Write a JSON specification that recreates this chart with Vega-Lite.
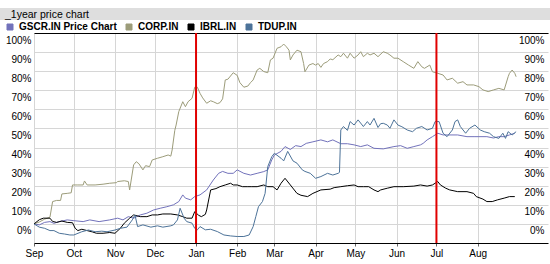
{
  "$schema": "https://vega.github.io/schema/vega-lite/v6.json",
  "width": 514,
  "height": 210,
  "autosize": {"type": "none"},
  "padding": {"left": 34, "top": 33, "right": 2, "bottom": 21},
  "background": "white",
  "config": {"view": {"stroke": null}, "font": "Liberation Sans"},
  "title": {"text": "_1year price chart", "anchor": "start", "frame": "group", "dx": -29, "offset": -13, "fontSize": 10.5, "fontWeight": "normal", "font": "Liberation Sans", "color": "#000000"},
  "resolve": {"axis": {"x": "independent", "y": "independent"}},
  "layer": [
    {
      "data": {"values": [{"band": "title"}]},
      "mark": {"type": "rect", "color": "#dedede"},
      "encoding": {
        "x": {"datum": {"year": 2006, "month": 8, "date": 6, "utc": true}, "type": "temporal", "scale": {"type": "utc", "domain": [{"year": 2006, "month": 9, "date": 1, "utc": true}, {"year": 2007, "month": 9, "date": 23, "utc": true}]}, "axis": null},
        "x2": {"datum": {"year": 2007, "month": 9, "date": 26, "utc": true}},
        "y": {"datum": 106.8, "type": "quantitative", "scale": {"domain": [-10, 100]},
          "axis": {"orient": "right", "values": [0, 10, 20, 30, 40, 50, 60, 70, 80, 90, 100], "labelExpr": "datum.value + '%'", "labelAlign": "right", "labelPadding": -4, "labelOffset": 7, "grid": false, "ticks": false, "domain": false, "title": null, "labelFont": "Liberation Sans", "labelFontSize": 10, "labelColor": "#000000"}},
        "y2": {"datum": 113.1}
      }
    },
    {
      "data": {"values": [
        {"s": "GSCR.IN Price Chart", "d": "2006-09-01", "v": 0},
        {"s": "GSCR.IN Price Chart", "d": "2006-09-05", "v": -0.5},
        {"s": "GSCR.IN Price Chart", "d": "2006-09-09", "v": 0.8},
        {"s": "GSCR.IN Price Chart", "d": "2006-09-13", "v": 1.2},
        {"s": "GSCR.IN Price Chart", "d": "2006-09-16", "v": 0.3},
        {"s": "GSCR.IN Price Chart", "d": "2006-09-20", "v": 1.2},
        {"s": "GSCR.IN Price Chart", "d": "2006-09-26", "v": 2.1},
        {"s": "GSCR.IN Price Chart", "d": "2006-10-01", "v": 1.7},
        {"s": "GSCR.IN Price Chart", "d": "2006-10-08", "v": 1.2},
        {"s": "GSCR.IN Price Chart", "d": "2006-10-13", "v": 2.1},
        {"s": "GSCR.IN Price Chart", "d": "2006-10-20", "v": 1.2},
        {"s": "GSCR.IN Price Chart", "d": "2006-10-28", "v": 2.1},
        {"s": "GSCR.IN Price Chart", "d": "2006-11-03", "v": 3},
        {"s": "GSCR.IN Price Chart", "d": "2006-11-07", "v": 2.1},
        {"s": "GSCR.IN Price Chart", "d": "2006-11-11", "v": 3.8},
        {"s": "GSCR.IN Price Chart", "d": "2006-11-15", "v": 3},
        {"s": "GSCR.IN Price Chart", "d": "2006-11-20", "v": 4.7},
        {"s": "GSCR.IN Price Chart", "d": "2006-11-25", "v": 5.6},
        {"s": "GSCR.IN Price Chart", "d": "2006-11-30", "v": 7.3},
        {"s": "GSCR.IN Price Chart", "d": "2006-12-05", "v": 8.2},
        {"s": "GSCR.IN Price Chart", "d": "2006-12-10", "v": 9},
        {"s": "GSCR.IN Price Chart", "d": "2006-12-15", "v": 10},
        {"s": "GSCR.IN Price Chart", "d": "2006-12-19", "v": 11.7},
        {"s": "GSCR.IN Price Chart", "d": "2006-12-22", "v": 15.2},
        {"s": "GSCR.IN Price Chart", "d": "2006-12-24", "v": 13.5},
        {"s": "GSCR.IN Price Chart", "d": "2006-12-28", "v": 12.6},
        {"s": "GSCR.IN Price Chart", "d": "2006-12-31", "v": 14.3},
        {"s": "GSCR.IN Price Chart", "d": "2007-01-04", "v": 15.2},
        {"s": "GSCR.IN Price Chart", "d": "2007-01-09", "v": 17.8},
        {"s": "GSCR.IN Price Chart", "d": "2007-01-14", "v": 23},
        {"s": "GSCR.IN Price Chart", "d": "2007-01-18", "v": 26.5},
        {"s": "GSCR.IN Price Chart", "d": "2007-01-21", "v": 27.5},
        {"s": "GSCR.IN Price Chart", "d": "2007-01-25", "v": 26.5},
        {"s": "GSCR.IN Price Chart", "d": "2007-01-29", "v": 26.5},
        {"s": "GSCR.IN Price Chart", "d": "2007-02-01", "v": 28.3},
        {"s": "GSCR.IN Price Chart", "d": "2007-02-06", "v": 26.5},
        {"s": "GSCR.IN Price Chart", "d": "2007-02-11", "v": 25.6},
        {"s": "GSCR.IN Price Chart", "d": "2007-02-16", "v": 26.5},
        {"s": "GSCR.IN Price Chart", "d": "2007-02-21", "v": 27.4},
        {"s": "GSCR.IN Price Chart", "d": "2007-02-24", "v": 28.3},
        {"s": "GSCR.IN Price Chart", "d": "2007-02-27", "v": 33.5},
        {"s": "GSCR.IN Price Chart", "d": "2007-03-01", "v": 36.1},
        {"s": "GSCR.IN Price Chart", "d": "2007-03-06", "v": 38},
        {"s": "GSCR.IN Price Chart", "d": "2007-03-09", "v": 40.5},
        {"s": "GSCR.IN Price Chart", "d": "2007-03-13", "v": 39},
        {"s": "GSCR.IN Price Chart", "d": "2007-03-17", "v": 41},
        {"s": "GSCR.IN Price Chart", "d": "2007-03-21", "v": 40.5},
        {"s": "GSCR.IN Price Chart", "d": "2007-03-25", "v": 42.2},
        {"s": "GSCR.IN Price Chart", "d": "2007-03-30", "v": 43},
        {"s": "GSCR.IN Price Chart", "d": "2007-04-05", "v": 44},
        {"s": "GSCR.IN Price Chart", "d": "2007-04-10", "v": 43},
        {"s": "GSCR.IN Price Chart", "d": "2007-04-14", "v": 44},
        {"s": "GSCR.IN Price Chart", "d": "2007-04-20", "v": 42},
        {"s": "GSCR.IN Price Chart", "d": "2007-04-25", "v": 42},
        {"s": "GSCR.IN Price Chart", "d": "2007-04-30", "v": 41.4},
        {"s": "GSCR.IN Price Chart", "d": "2007-05-05", "v": 40.5},
        {"s": "GSCR.IN Price Chart", "d": "2007-05-10", "v": 41.4},
        {"s": "GSCR.IN Price Chart", "d": "2007-05-15", "v": 39.6},
        {"s": "GSCR.IN Price Chart", "d": "2007-05-22", "v": 39.3},
        {"s": "GSCR.IN Price Chart", "d": "2007-05-30", "v": 40.5},
        {"s": "GSCR.IN Price Chart", "d": "2007-06-04", "v": 41},
        {"s": "GSCR.IN Price Chart", "d": "2007-06-09", "v": 39.6},
        {"s": "GSCR.IN Price Chart", "d": "2007-06-14", "v": 40.5},
        {"s": "GSCR.IN Price Chart", "d": "2007-06-19", "v": 41.4},
        {"s": "GSCR.IN Price Chart", "d": "2007-06-21", "v": 42.2},
        {"s": "GSCR.IN Price Chart", "d": "2007-06-24", "v": 44},
        {"s": "GSCR.IN Price Chart", "d": "2007-06-28", "v": 45.7},
        {"s": "GSCR.IN Price Chart", "d": "2007-07-02", "v": 47.5},
        {"s": "GSCR.IN Price Chart", "d": "2007-07-06", "v": 46.6},
        {"s": "GSCR.IN Price Chart", "d": "2007-07-09", "v": 46.6},
        {"s": "GSCR.IN Price Chart", "d": "2007-07-17", "v": 46.6},
        {"s": "GSCR.IN Price Chart", "d": "2007-07-24", "v": 45.7},
        {"s": "GSCR.IN Price Chart", "d": "2007-07-30", "v": 45.7},
        {"s": "GSCR.IN Price Chart", "d": "2007-08-08", "v": 45.7},
        {"s": "GSCR.IN Price Chart", "d": "2007-08-13", "v": 45},
        {"s": "GSCR.IN Price Chart", "d": "2007-08-17", "v": 45.7},
        {"s": "GSCR.IN Price Chart", "d": "2007-08-21", "v": 45.7},
        {"s": "GSCR.IN Price Chart", "d": "2007-08-25", "v": 46.6},
        {"s": "GSCR.IN Price Chart", "d": "2007-08-29", "v": 47.5},

        {"s": "CORP.IN", "d": "2006-09-01", "v": 0},
        {"s": "CORP.IN", "d": "2006-09-05", "v": 1},
        {"s": "CORP.IN", "d": "2006-09-09", "v": 2.5},
        {"s": "CORP.IN", "d": "2006-09-13", "v": 3.5},
        {"s": "CORP.IN", "d": "2006-09-15", "v": 11.7},
        {"s": "CORP.IN", "d": "2006-09-18", "v": 12.3},
        {"s": "CORP.IN", "d": "2006-09-21", "v": 12.3},
        {"s": "CORP.IN", "d": "2006-09-22", "v": 15.7},
        {"s": "CORP.IN", "d": "2006-09-26", "v": 16},
        {"s": "CORP.IN", "d": "2006-09-29", "v": 16.3},
        {"s": "CORP.IN", "d": "2006-09-30", "v": 20.4},
        {"s": "CORP.IN", "d": "2006-10-04", "v": 20.4},
        {"s": "CORP.IN", "d": "2006-10-08", "v": 20.4},
        {"s": "CORP.IN", "d": "2006-10-09", "v": 22.5},
        {"s": "CORP.IN", "d": "2006-10-11", "v": 20.4},
        {"s": "CORP.IN", "d": "2006-10-17", "v": 20.4},
        {"s": "CORP.IN", "d": "2006-10-23", "v": 20.8},
        {"s": "CORP.IN", "d": "2006-10-28", "v": 21.3},
        {"s": "CORP.IN", "d": "2006-11-02", "v": 21.6},
        {"s": "CORP.IN", "d": "2006-11-03", "v": 22.2},
        {"s": "CORP.IN", "d": "2006-11-08", "v": 22.6},
        {"s": "CORP.IN", "d": "2006-11-11", "v": 22.2},
        {"s": "CORP.IN", "d": "2006-11-12", "v": 17.8},
        {"s": "CORP.IN", "d": "2006-11-15", "v": 30.9},
        {"s": "CORP.IN", "d": "2006-11-17", "v": 32.6},
        {"s": "CORP.IN", "d": "2006-11-19", "v": 31.5},
        {"s": "CORP.IN", "d": "2006-11-22", "v": 28.3},
        {"s": "CORP.IN", "d": "2006-11-24", "v": 30.5},
        {"s": "CORP.IN", "d": "2006-11-27", "v": 30},
        {"s": "CORP.IN", "d": "2006-11-29", "v": 33.5},
        {"s": "CORP.IN", "d": "2006-12-03", "v": 34.4},
        {"s": "CORP.IN", "d": "2006-12-07", "v": 35.2},
        {"s": "CORP.IN", "d": "2006-12-11", "v": 36.1},
        {"s": "CORP.IN", "d": "2006-12-13", "v": 35.5},
        {"s": "CORP.IN", "d": "2006-12-14", "v": 38.7},
        {"s": "CORP.IN", "d": "2006-12-16", "v": 49},
        {"s": "CORP.IN", "d": "2006-12-17", "v": 51.8},
        {"s": "CORP.IN", "d": "2006-12-19", "v": 58.8},
        {"s": "CORP.IN", "d": "2006-12-22", "v": 64},
        {"s": "CORP.IN", "d": "2006-12-24", "v": 61.4},
        {"s": "CORP.IN", "d": "2006-12-26", "v": 64},
        {"s": "CORP.IN", "d": "2006-12-29", "v": 65.8},
        {"s": "CORP.IN", "d": "2006-12-31", "v": 71.6},
        {"s": "CORP.IN", "d": "2007-01-02", "v": 71.6},
        {"s": "CORP.IN", "d": "2007-01-04", "v": 68.4},
        {"s": "CORP.IN", "d": "2007-01-06", "v": 66},
        {"s": "CORP.IN", "d": "2007-01-09", "v": 63.2},
        {"s": "CORP.IN", "d": "2007-01-12", "v": 64.5},
        {"s": "CORP.IN", "d": "2007-01-14", "v": 64},
        {"s": "CORP.IN", "d": "2007-01-17", "v": 63},
        {"s": "CORP.IN", "d": "2007-01-19", "v": 63.5},
        {"s": "CORP.IN", "d": "2007-01-21", "v": 65.5},
        {"s": "CORP.IN", "d": "2007-01-23", "v": 75.4},
        {"s": "CORP.IN", "d": "2007-01-25", "v": 75.8},
        {"s": "CORP.IN", "d": "2007-01-29", "v": 79.2},
        {"s": "CORP.IN", "d": "2007-02-01", "v": 77.8},
        {"s": "CORP.IN", "d": "2007-02-03", "v": 74},
        {"s": "CORP.IN", "d": "2007-02-06", "v": 71.6},
        {"s": "CORP.IN", "d": "2007-02-09", "v": 72.2},
        {"s": "CORP.IN", "d": "2007-02-11", "v": 74},
        {"s": "CORP.IN", "d": "2007-02-13", "v": 75.4},
        {"s": "CORP.IN", "d": "2007-02-16", "v": 80.6},
        {"s": "CORP.IN", "d": "2007-02-18", "v": 81.5},
        {"s": "CORP.IN", "d": "2007-02-21", "v": 79.8},
        {"s": "CORP.IN", "d": "2007-02-24", "v": 79.2},
        {"s": "CORP.IN", "d": "2007-02-26", "v": 85.9},
        {"s": "CORP.IN", "d": "2007-02-28", "v": 86.8},
        {"s": "CORP.IN", "d": "2007-03-03", "v": 92},
        {"s": "CORP.IN", "d": "2007-03-06", "v": 92.8},
        {"s": "CORP.IN", "d": "2007-03-08", "v": 94.2},
        {"s": "CORP.IN", "d": "2007-03-10", "v": 92.8},
        {"s": "CORP.IN", "d": "2007-03-12", "v": 91},
        {"s": "CORP.IN", "d": "2007-03-13", "v": 85.9},
        {"s": "CORP.IN", "d": "2007-03-15", "v": 88.5},
        {"s": "CORP.IN", "d": "2007-03-18", "v": 91},
        {"s": "CORP.IN", "d": "2007-03-21", "v": 90.2},
        {"s": "CORP.IN", "d": "2007-03-23", "v": 84},
        {"s": "CORP.IN", "d": "2007-03-24", "v": 79.7},
        {"s": "CORP.IN", "d": "2007-03-27", "v": 83.2},
        {"s": "CORP.IN", "d": "2007-03-30", "v": 84},
        {"s": "CORP.IN", "d": "2007-04-01", "v": 83.2},
        {"s": "CORP.IN", "d": "2007-04-03", "v": 84},
        {"s": "CORP.IN", "d": "2007-04-05", "v": 82},
        {"s": "CORP.IN", "d": "2007-04-07", "v": 84},
        {"s": "CORP.IN", "d": "2007-04-10", "v": 85},
        {"s": "CORP.IN", "d": "2007-04-12", "v": 86.4},
        {"s": "CORP.IN", "d": "2007-04-14", "v": 86},
        {"s": "CORP.IN", "d": "2007-04-18", "v": 88.5},
        {"s": "CORP.IN", "d": "2007-04-20", "v": 87.6},
        {"s": "CORP.IN", "d": "2007-04-22", "v": 89.4},
        {"s": "CORP.IN", "d": "2007-04-25", "v": 86.8},
        {"s": "CORP.IN", "d": "2007-04-27", "v": 89.4},
        {"s": "CORP.IN", "d": "2007-04-30", "v": 86.8},
        {"s": "CORP.IN", "d": "2007-05-03", "v": 88.5},
        {"s": "CORP.IN", "d": "2007-05-05", "v": 90.2},
        {"s": "CORP.IN", "d": "2007-05-07", "v": 87.6},
        {"s": "CORP.IN", "d": "2007-05-10", "v": 89.4},
        {"s": "CORP.IN", "d": "2007-05-12", "v": 88.5},
        {"s": "CORP.IN", "d": "2007-05-15", "v": 89.4},
        {"s": "CORP.IN", "d": "2007-05-18", "v": 87.6},
        {"s": "CORP.IN", "d": "2007-05-22", "v": 90.2},
        {"s": "CORP.IN", "d": "2007-05-25", "v": 89.4},
        {"s": "CORP.IN", "d": "2007-05-27", "v": 88.5},
        {"s": "CORP.IN", "d": "2007-05-30", "v": 86.8},
        {"s": "CORP.IN", "d": "2007-06-02", "v": 86.8},
        {"s": "CORP.IN", "d": "2007-06-06", "v": 85},
        {"s": "CORP.IN", "d": "2007-06-10", "v": 83.2},
        {"s": "CORP.IN", "d": "2007-06-14", "v": 81.5},
        {"s": "CORP.IN", "d": "2007-06-17", "v": 85},
        {"s": "CORP.IN", "d": "2007-06-20", "v": 82.3},
        {"s": "CORP.IN", "d": "2007-06-22", "v": 81.5},
        {"s": "CORP.IN", "d": "2007-06-26", "v": 83.2},
        {"s": "CORP.IN", "d": "2007-06-28", "v": 79.7},
        {"s": "CORP.IN", "d": "2007-07-02", "v": 78.9},
        {"s": "CORP.IN", "d": "2007-07-06", "v": 78},
        {"s": "CORP.IN", "d": "2007-07-09", "v": 75.4},
        {"s": "CORP.IN", "d": "2007-07-13", "v": 76.3},
        {"s": "CORP.IN", "d": "2007-07-17", "v": 73.7},
        {"s": "CORP.IN", "d": "2007-07-21", "v": 74.5},
        {"s": "CORP.IN", "d": "2007-07-24", "v": 72.8},
        {"s": "CORP.IN", "d": "2007-07-29", "v": 72.8},
        {"s": "CORP.IN", "d": "2007-08-02", "v": 71.9},
        {"s": "CORP.IN", "d": "2007-08-05", "v": 70.2},
        {"s": "CORP.IN", "d": "2007-08-09", "v": 69.3},
        {"s": "CORP.IN", "d": "2007-08-13", "v": 70.2},
        {"s": "CORP.IN", "d": "2007-08-17", "v": 71},
        {"s": "CORP.IN", "d": "2007-08-21", "v": 70.2},
        {"s": "CORP.IN", "d": "2007-08-24", "v": 77.1},
        {"s": "CORP.IN", "d": "2007-08-25", "v": 78.9},
        {"s": "CORP.IN", "d": "2007-08-27", "v": 80.6},
        {"s": "CORP.IN", "d": "2007-08-29", "v": 78.9},
        {"s": "CORP.IN", "d": "2007-08-30", "v": 77.1},

        {"s": "IBRL.IN", "d": "2006-09-01", "v": 0},
        {"s": "IBRL.IN", "d": "2006-09-05", "v": 2.2},
        {"s": "IBRL.IN", "d": "2006-09-08", "v": 3},
        {"s": "IBRL.IN", "d": "2006-09-13", "v": 3},
        {"s": "IBRL.IN", "d": "2006-09-15", "v": 1.3},
        {"s": "IBRL.IN", "d": "2006-09-18", "v": 0.8},
        {"s": "IBRL.IN", "d": "2006-09-22", "v": 1.5},
        {"s": "IBRL.IN", "d": "2006-09-26", "v": 0.8},
        {"s": "IBRL.IN", "d": "2006-09-30", "v": 0.6},
        {"s": "IBRL.IN", "d": "2006-10-02", "v": -2.3},
        {"s": "IBRL.IN", "d": "2006-10-04", "v": -3.5},
        {"s": "IBRL.IN", "d": "2006-10-07", "v": -2.8},
        {"s": "IBRL.IN", "d": "2006-10-11", "v": -3.5},
        {"s": "IBRL.IN", "d": "2006-10-15", "v": -4.2},
        {"s": "IBRL.IN", "d": "2006-10-18", "v": -4.9},
        {"s": "IBRL.IN", "d": "2006-10-23", "v": -4.9},
        {"s": "IBRL.IN", "d": "2006-10-28", "v": -4.5},
        {"s": "IBRL.IN", "d": "2006-11-01", "v": -4.9},
        {"s": "IBRL.IN", "d": "2006-11-05", "v": -2.3},
        {"s": "IBRL.IN", "d": "2006-11-08", "v": 0.4},
        {"s": "IBRL.IN", "d": "2006-11-12", "v": 3},
        {"s": "IBRL.IN", "d": "2006-11-15", "v": 4.7},
        {"s": "IBRL.IN", "d": "2006-11-20", "v": 3.8},
        {"s": "IBRL.IN", "d": "2006-11-25", "v": 3.8},
        {"s": "IBRL.IN", "d": "2006-11-29", "v": 4.7},
        {"s": "IBRL.IN", "d": "2006-12-03", "v": 4.7},
        {"s": "IBRL.IN", "d": "2006-12-07", "v": 5.2},
        {"s": "IBRL.IN", "d": "2006-12-13", "v": 5.2},
        {"s": "IBRL.IN", "d": "2006-12-18", "v": 4.7},
        {"s": "IBRL.IN", "d": "2006-12-22", "v": 3.8},
        {"s": "IBRL.IN", "d": "2006-12-25", "v": 3},
        {"s": "IBRL.IN", "d": "2006-12-29", "v": 3},
        {"s": "IBRL.IN", "d": "2006-12-31", "v": 6.4},
        {"s": "IBRL.IN", "d": "2007-01-03", "v": 4.5},
        {"s": "IBRL.IN", "d": "2007-01-05", "v": 3.8},
        {"s": "IBRL.IN", "d": "2007-01-08", "v": 5},
        {"s": "IBRL.IN", "d": "2007-01-09", "v": 7.3},
        {"s": "IBRL.IN", "d": "2007-01-12", "v": 17.8},
        {"s": "IBRL.IN", "d": "2007-01-16", "v": 18.5},
        {"s": "IBRL.IN", "d": "2007-01-19", "v": 19.5},
        {"s": "IBRL.IN", "d": "2007-01-23", "v": 20.4},
        {"s": "IBRL.IN", "d": "2007-01-27", "v": 21.3},
        {"s": "IBRL.IN", "d": "2007-01-29", "v": 20.4},
        {"s": "IBRL.IN", "d": "2007-02-01", "v": 20.4},
        {"s": "IBRL.IN", "d": "2007-02-05", "v": 19.5},
        {"s": "IBRL.IN", "d": "2007-02-09", "v": 19.5},
        {"s": "IBRL.IN", "d": "2007-02-12", "v": 19.5},
        {"s": "IBRL.IN", "d": "2007-02-16", "v": 19.5},
        {"s": "IBRL.IN", "d": "2007-02-21", "v": 20.4},
        {"s": "IBRL.IN", "d": "2007-02-24", "v": 19.5},
        {"s": "IBRL.IN", "d": "2007-02-28", "v": 19.5},
        {"s": "IBRL.IN", "d": "2007-03-03", "v": 17.8},
        {"s": "IBRL.IN", "d": "2007-03-06", "v": 21.3},
        {"s": "IBRL.IN", "d": "2007-03-09", "v": 23.9},
        {"s": "IBRL.IN", "d": "2007-03-13", "v": 20.4},
        {"s": "IBRL.IN", "d": "2007-03-18", "v": 16},
        {"s": "IBRL.IN", "d": "2007-03-21", "v": 15},
        {"s": "IBRL.IN", "d": "2007-03-26", "v": 14.3},
        {"s": "IBRL.IN", "d": "2007-03-30", "v": 16},
        {"s": "IBRL.IN", "d": "2007-04-05", "v": 17.8},
        {"s": "IBRL.IN", "d": "2007-04-12", "v": 18.2},
        {"s": "IBRL.IN", "d": "2007-04-15", "v": 19},
        {"s": "IBRL.IN", "d": "2007-04-20", "v": 19.5},
        {"s": "IBRL.IN", "d": "2007-04-25", "v": 20},
        {"s": "IBRL.IN", "d": "2007-04-30", "v": 20.4},
        {"s": "IBRL.IN", "d": "2007-05-03", "v": 19.5},
        {"s": "IBRL.IN", "d": "2007-05-07", "v": 19.5},
        {"s": "IBRL.IN", "d": "2007-05-11", "v": 19.5},
        {"s": "IBRL.IN", "d": "2007-05-15", "v": 17.8},
        {"s": "IBRL.IN", "d": "2007-05-18", "v": 16.9},
        {"s": "IBRL.IN", "d": "2007-05-20", "v": 17.8},
        {"s": "IBRL.IN", "d": "2007-05-25", "v": 18.7},
        {"s": "IBRL.IN", "d": "2007-05-30", "v": 19.5},
        {"s": "IBRL.IN", "d": "2007-06-06", "v": 19.5},
        {"s": "IBRL.IN", "d": "2007-06-14", "v": 19.8},
        {"s": "IBRL.IN", "d": "2007-06-19", "v": 20.4},
        {"s": "IBRL.IN", "d": "2007-06-24", "v": 19.8},
        {"s": "IBRL.IN", "d": "2007-06-28", "v": 20.4},
        {"s": "IBRL.IN", "d": "2007-07-02", "v": 22.2},
        {"s": "IBRL.IN", "d": "2007-07-04", "v": 20.4},
        {"s": "IBRL.IN", "d": "2007-07-08", "v": 18.7},
        {"s": "IBRL.IN", "d": "2007-07-11", "v": 17.8},
        {"s": "IBRL.IN", "d": "2007-07-17", "v": 16.9},
        {"s": "IBRL.IN", "d": "2007-07-24", "v": 16.9},
        {"s": "IBRL.IN", "d": "2007-07-29", "v": 16},
        {"s": "IBRL.IN", "d": "2007-07-31", "v": 14.3},
        {"s": "IBRL.IN", "d": "2007-08-05", "v": 13},
        {"s": "IBRL.IN", "d": "2007-08-08", "v": 11.7},
        {"s": "IBRL.IN", "d": "2007-08-12", "v": 11.7},
        {"s": "IBRL.IN", "d": "2007-08-16", "v": 12.6},
        {"s": "IBRL.IN", "d": "2007-08-21", "v": 13.5},
        {"s": "IBRL.IN", "d": "2007-08-25", "v": 14.3},
        {"s": "IBRL.IN", "d": "2007-08-29", "v": 14.3},

        {"s": "TDUP.IN", "d": "2006-09-01", "v": 0},
        {"s": "TDUP.IN", "d": "2006-09-05", "v": -1.7},
        {"s": "TDUP.IN", "d": "2006-09-09", "v": -2.3},
        {"s": "TDUP.IN", "d": "2006-09-13", "v": -3.5},
        {"s": "TDUP.IN", "d": "2006-09-16", "v": -3.5},
        {"s": "TDUP.IN", "d": "2006-09-20", "v": -4.9},
        {"s": "TDUP.IN", "d": "2006-09-24", "v": -5.3},
        {"s": "TDUP.IN", "d": "2006-09-28", "v": -5.8},
        {"s": "TDUP.IN", "d": "2006-10-01", "v": -5.8},
        {"s": "TDUP.IN", "d": "2006-10-07", "v": -4.1},
        {"s": "TDUP.IN", "d": "2006-10-12", "v": -3.2},
        {"s": "TDUP.IN", "d": "2006-10-17", "v": -4.1},
        {"s": "TDUP.IN", "d": "2006-10-22", "v": -3.8},
        {"s": "TDUP.IN", "d": "2006-10-26", "v": -4.1},
        {"s": "TDUP.IN", "d": "2006-11-01", "v": -3.2},
        {"s": "TDUP.IN", "d": "2006-11-05", "v": -2.3},
        {"s": "TDUP.IN", "d": "2006-11-10", "v": -1.7},
        {"s": "TDUP.IN", "d": "2006-11-14", "v": 2.1},
        {"s": "TDUP.IN", "d": "2006-11-16", "v": 4.7},
        {"s": "TDUP.IN", "d": "2006-11-18", "v": -1.4},
        {"s": "TDUP.IN", "d": "2006-11-22", "v": -0.5},
        {"s": "TDUP.IN", "d": "2006-11-28", "v": -1.7},
        {"s": "TDUP.IN", "d": "2006-12-03", "v": -1},
        {"s": "TDUP.IN", "d": "2006-12-07", "v": -1.7},
        {"s": "TDUP.IN", "d": "2006-12-13", "v": -1},
        {"s": "TDUP.IN", "d": "2006-12-15", "v": -0.5},
        {"s": "TDUP.IN", "d": "2006-12-18", "v": 2.1},
        {"s": "TDUP.IN", "d": "2006-12-20", "v": 8.2},
        {"s": "TDUP.IN", "d": "2006-12-23", "v": 3},
        {"s": "TDUP.IN", "d": "2006-12-25", "v": 1.2},
        {"s": "TDUP.IN", "d": "2006-12-29", "v": 0.4},
        {"s": "TDUP.IN", "d": "2006-12-31", "v": -2.3},
        {"s": "TDUP.IN", "d": "2007-01-02", "v": -3.1},
        {"s": "TDUP.IN", "d": "2007-01-04", "v": -1.4},
        {"s": "TDUP.IN", "d": "2007-01-08", "v": -3.1},
        {"s": "TDUP.IN", "d": "2007-01-12", "v": -2.8},
        {"s": "TDUP.IN", "d": "2007-01-17", "v": -4},
        {"s": "TDUP.IN", "d": "2007-01-22", "v": -5.8},
        {"s": "TDUP.IN", "d": "2007-01-27", "v": -6.3},
        {"s": "TDUP.IN", "d": "2007-02-01", "v": -6.6},
        {"s": "TDUP.IN", "d": "2007-02-06", "v": -6.6},
        {"s": "TDUP.IN", "d": "2007-02-10", "v": -5.8},
        {"s": "TDUP.IN", "d": "2007-02-13", "v": -1.4},
        {"s": "TDUP.IN", "d": "2007-02-15", "v": 3.8},
        {"s": "TDUP.IN", "d": "2007-02-17", "v": 9},
        {"s": "TDUP.IN", "d": "2007-02-20", "v": 11.7},
        {"s": "TDUP.IN", "d": "2007-02-22", "v": 16},
        {"s": "TDUP.IN", "d": "2007-02-24", "v": 30},
        {"s": "TDUP.IN", "d": "2007-02-27", "v": 35.2},
        {"s": "TDUP.IN", "d": "2007-03-01", "v": 37},
        {"s": "TDUP.IN", "d": "2007-03-06", "v": 34.4},
        {"s": "TDUP.IN", "d": "2007-03-08", "v": 33},
        {"s": "TDUP.IN", "d": "2007-03-11", "v": 38},
        {"s": "TDUP.IN", "d": "2007-03-15", "v": 33},
        {"s": "TDUP.IN", "d": "2007-03-18", "v": 31.8},
        {"s": "TDUP.IN", "d": "2007-03-22", "v": 28.3},
        {"s": "TDUP.IN", "d": "2007-03-24", "v": 27.5},
        {"s": "TDUP.IN", "d": "2007-03-28", "v": 26.5},
        {"s": "TDUP.IN", "d": "2007-04-01", "v": 23.9},
        {"s": "TDUP.IN", "d": "2007-04-05", "v": 24.8},
        {"s": "TDUP.IN", "d": "2007-04-10", "v": 26.5},
        {"s": "TDUP.IN", "d": "2007-04-14", "v": 25.6},
        {"s": "TDUP.IN", "d": "2007-04-18", "v": 26.5},
        {"s": "TDUP.IN", "d": "2007-04-19", "v": 27},
        {"s": "TDUP.IN", "d": "2007-04-20", "v": 49.2},
        {"s": "TDUP.IN", "d": "2007-04-22", "v": 51},
        {"s": "TDUP.IN", "d": "2007-04-25", "v": 49},
        {"s": "TDUP.IN", "d": "2007-04-27", "v": 53.6},
        {"s": "TDUP.IN", "d": "2007-04-30", "v": 51.8},
        {"s": "TDUP.IN", "d": "2007-05-03", "v": 54.5},
        {"s": "TDUP.IN", "d": "2007-05-07", "v": 51},
        {"s": "TDUP.IN", "d": "2007-05-10", "v": 53.6},
        {"s": "TDUP.IN", "d": "2007-05-12", "v": 51.8},
        {"s": "TDUP.IN", "d": "2007-05-15", "v": 55.3},
        {"s": "TDUP.IN", "d": "2007-05-18", "v": 50.5},
        {"s": "TDUP.IN", "d": "2007-05-20", "v": 52.5},
        {"s": "TDUP.IN", "d": "2007-05-22", "v": 52.7},
        {"s": "TDUP.IN", "d": "2007-05-25", "v": 51.8},
        {"s": "TDUP.IN", "d": "2007-05-27", "v": 50.1},
        {"s": "TDUP.IN", "d": "2007-05-30", "v": 54.5},
        {"s": "TDUP.IN", "d": "2007-06-02", "v": 51.8},
        {"s": "TDUP.IN", "d": "2007-06-05", "v": 50.9},
        {"s": "TDUP.IN", "d": "2007-06-09", "v": 49.2},
        {"s": "TDUP.IN", "d": "2007-06-13", "v": 48.3},
        {"s": "TDUP.IN", "d": "2007-06-16", "v": 50.1},
        {"s": "TDUP.IN", "d": "2007-06-20", "v": 51},
        {"s": "TDUP.IN", "d": "2007-06-24", "v": 49.2},
        {"s": "TDUP.IN", "d": "2007-06-28", "v": 50.1},
        {"s": "TDUP.IN", "d": "2007-06-30", "v": 53.6},
        {"s": "TDUP.IN", "d": "2007-07-03", "v": 53.6},
        {"s": "TDUP.IN", "d": "2007-07-06", "v": 47.5},
        {"s": "TDUP.IN", "d": "2007-07-09", "v": 45.7},
        {"s": "TDUP.IN", "d": "2007-07-13", "v": 49.2},
        {"s": "TDUP.IN", "d": "2007-07-15", "v": 53.6},
        {"s": "TDUP.IN", "d": "2007-07-17", "v": 54.5},
        {"s": "TDUP.IN", "d": "2007-07-19", "v": 51},
        {"s": "TDUP.IN", "d": "2007-07-23", "v": 47.5},
        {"s": "TDUP.IN", "d": "2007-07-26", "v": 50.1},
        {"s": "TDUP.IN", "d": "2007-07-30", "v": 51.8},
        {"s": "TDUP.IN", "d": "2007-08-03", "v": 49.2},
        {"s": "TDUP.IN", "d": "2007-08-06", "v": 48.3},
        {"s": "TDUP.IN", "d": "2007-08-10", "v": 47.5},
        {"s": "TDUP.IN", "d": "2007-08-13", "v": 45.7},
        {"s": "TDUP.IN", "d": "2007-08-17", "v": 44.8},
        {"s": "TDUP.IN", "d": "2007-08-20", "v": 47.5},
        {"s": "TDUP.IN", "d": "2007-08-22", "v": 44.8},
        {"s": "TDUP.IN", "d": "2007-08-24", "v": 48.3},
        {"s": "TDUP.IN", "d": "2007-08-27", "v": 46.6},
        {"s": "TDUP.IN", "d": "2007-08-30", "v": 48.3}
      ]},
      "mark": {"type": "line", "strokeWidth": 1},
      "encoding": {
        "x": {"field": "d", "type": "temporal",
          "axis": {"orient": "bottom", "values": [
            {"year": 2006, "month": 9, "date": 1, "utc": true},
            {"year": 2006, "month": 10, "date": 1, "utc": true},
            {"year": 2006, "month": 11, "date": 1, "utc": true},
            {"year": 2006, "month": 12, "date": 1, "utc": true},
            {"year": 2007, "month": 1, "date": 1, "utc": true},
            {"year": 2007, "month": 2, "date": 1, "utc": true},
            {"year": 2007, "month": 3, "date": 1, "utc": true},
            {"year": 2007, "month": 4, "date": 1, "utc": true},
            {"year": 2007, "month": 5, "date": 1, "utc": true},
            {"year": 2007, "month": 6, "date": 1, "utc": true},
            {"year": 2007, "month": 7, "date": 1, "utc": true},
            {"year": 2007, "month": 8, "date": 1, "utc": true}],
            "labelExpr": "utcFormat(datum.value, '%b')", "grid": true, "gridColor": "#d6d6d6", "tickSize": 3, "tickColor": "#666666", "domainColor": "#000000", "labelPadding": 2, "labelFontSize": 10, "labelFont": "Liberation Sans", "labelColor": "#000000", "labelFlush": false, "labelOverlap": false, "title": null}},
        "y": {"field": "v", "type": "quantitative",
          "axis": {"orient": "left", "values": [0, 10, 20, 30, 40, 50, 60, 70, 80, 90, 100], "labelExpr": "datum.value + '%'", "labelOffset": 7, "labelPadding": 3, "grid": true, "gridColor": "#d6d6d6", "ticks": false, "domain": false, "title": null, "labelFont": "Liberation Sans", "labelFontSize": 10, "labelColor": "#000000"}},
        "color": {"field": "s", "type": "nominal",
          "scale": {"domain": ["GSCR.IN Price Chart", "CORP.IN", "IBRL.IN", "TDUP.IN"], "range": ["#7272bb", "#9c9c7a", "#000000", "#4d7399"]},
          "legend": {"title": null, "orient": "none", "direction": "horizontal", "gridAlign": "none", "legendX": -29, "legendY": -11, "symbolType": "square", "symbolSize": 36, "symbolStrokeWidth": 1, "labelFont": "Liberation Sans", "labelFontSize": 10, "labelFontWeight": "bold", "labelColor": "#000000", "labelOffset": 4, "columnPadding": 7, "padding": 0,
            "encode": {"symbols": {"update": {"fill": {"scale": "color", "field": "value"}, "stroke": {"value": "#222222"}, "opacity": {"value": 1}}}}}}
      }
    },
    {
      "data": {"values": [{"d": "2007-01-01"}, {"d": "2007-07-01"}]},
      "mark": {"type": "rule", "color": "#e00000", "strokeWidth": 2},
      "encoding": {
        "x": {"field": "d", "type": "temporal", "axis": {"orient": "top", "labels": false, "ticks": false, "grid": false, "domain": true, "domainColor": "#000000", "title": null}}
      }
    }
  ]
}
